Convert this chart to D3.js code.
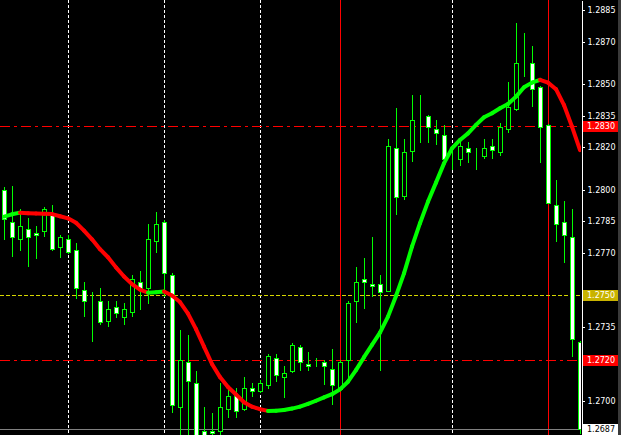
<!DOCTYPE html>
<html>
<head>
<meta charset="utf-8">
<title>Chart</title>
<style>
  body { margin: 0; background: #000; }
  svg { display: block; }
  .axis text { font-family: 'DejaVu Sans', sans-serif; font-size: 8px; fill: #fff; }
  .axis path, .axis line { stroke: #fff; shape-rendering: crispEdges; }
  .lbl { font-family: 'DejaVu Sans', sans-serif; font-size: 8px; }
</style>
</head>
<body>
<div id="chart"></div>
<script src="https://d3js.org/d3.v7.min.js"></script>
<script>
// candle data, oldest bar first
var opens = [1.27998,1.27847,1.27766,1.27814,1.27795,1.27804,1.27880,1.27728,1.27766,1.27714,
  1.27525,1.27482,1.27473,1.27378,1.27445,1.27397,1.27421,1.27563,1.27534,1.27757,
  1.27847,1.27596,1.26972,1.27184,1.27085,1.26858,1.26860,1.26858,1.26962,1.27028,
  1.26962,1.27061,1.27047,1.27076,1.27203,1.27113,1.27142,1.27255,1.27175,1.27175,
  1.27184,1.27151,1.27057,1.27194,1.27473,1.27577,1.27553,1.27553,1.27520,1.28197,
  1.27970,1.28183,1.28339,1.28348,1.28287,1.28258,1.28135,1.28145,1.28197,1.28168,
  1.28159,1.28206,1.28178,1.28287,1.28381,1.28608,1.28599,1.28485,1.28306,1.27927,
  1.27847,1.27776,1.27279];
var highs = [1.28012,1.28017,1.27908,1.27866,1.27828,1.27918,1.27927,1.27785,1.27785,1.27747,
  1.27563,1.27516,1.27534,1.27473,1.27473,1.27464,1.27596,1.27615,1.27837,1.27894,
  1.27856,1.27605,1.27336,1.27312,1.27142,1.26972,1.26943,1.27085,1.27057,1.27061,
  1.27113,1.27085,1.27099,1.27222,1.27222,1.27165,1.27274,1.27265,1.27232,1.27203,
  1.27194,1.27246,1.27194,1.27473,1.27634,1.27676,1.27776,1.27596,1.28239,1.28386,
  1.28239,1.28448,1.28448,1.28353,1.28329,1.28306,1.28201,1.28239,1.28225,1.28197,
  1.28239,1.28239,1.28315,1.28509,1.28788,1.28741,1.28679,1.28490,1.28310,1.28045,
  1.27946,1.27908,1.27284];
var lows = [1.27762,1.27681,1.27710,1.27634,1.27672,1.27776,1.27710,1.27676,1.27695,1.27482,
  1.27397,1.27279,1.27359,1.27350,1.27393,1.27359,1.27397,1.27430,1.27459,1.27700,
  1.27492,1.26943,1.26830,1.26825,1.26792,1.26815,1.26825,1.26834,1.26919,1.26919,
  1.26953,1.27019,1.27038,1.27057,1.27090,1.27014,1.27132,1.27142,1.27142,1.27161,
  1.27076,1.26981,1.27052,1.27099,1.27369,1.27435,1.27492,1.27142,1.27516,1.27880,
  1.27951,1.28131,1.28220,1.28220,1.28211,1.28135,1.28093,1.28112,1.28126,1.28093,
  1.28145,1.28145,1.28159,1.28268,1.28372,1.28533,1.28391,1.28126,1.27932,1.27752,
  1.27653,1.27208,1.26844];
var closes = [1.27861,1.27776,1.27828,1.27776,1.27785,1.27908,1.27719,1.27776,1.27705,1.27534,
  1.27473,1.27482,1.27374,1.27435,1.27416,1.27435,1.27577,1.27530,1.27766,1.27837,
  1.27605,1.26981,1.27194,1.27095,1.26815,1.26839,1.26849,1.26972,1.27024,1.26953,
  1.27061,1.27047,1.27085,1.27213,1.27123,1.27132,1.27265,1.27184,1.27165,1.27175,
  1.27165,1.27076,1.27184,1.27464,1.27563,1.27563,1.27544,1.27516,1.28206,1.27965,
  1.28178,1.28329,1.28339,1.28296,1.28268,1.28145,1.28135,1.28206,1.28178,1.28168,
  1.28197,1.28187,1.28296,1.28391,1.28599,1.28608,1.28476,1.28296,1.27937,1.27837,
  1.27785,1.27293,1.26866];
// smoothed average drawn over the candles
var maValues = [1.27872,1.27883,1.27891,1.27888,1.27887,1.27886,1.27884,1.27874,1.27864,1.27843,
  1.27806,1.27765,1.27718,1.27680,1.27632,1.27589,1.27553,1.27527,1.27512,1.27514,
  1.27518,1.27499,1.27468,1.27413,1.27340,1.27257,1.27175,1.27113,1.27066,1.27031,
  1.26994,1.26973,1.26961,1.26953,1.26954,1.26957,1.26964,1.26973,1.26986,1.27001,
  1.27017,1.27032,1.27055,1.27091,1.27146,1.27207,1.27265,1.27323,1.27399,1.27497,
  1.27604,1.27730,1.27841,1.27943,1.28033,1.28124,1.28195,1.28235,1.28266,1.28306,
  1.28342,1.28361,1.28385,1.28405,1.28440,1.28484,1.28506,1.28519,1.28506,1.28475,
  1.28400,1.28298,1.28187];

var priceTicks = [1.2885, 1.2870, 1.2850, 1.2835, 1.2820, 1.2800, 1.2785, 1.2770, 1.2735, 1.2700];
var levelPrices = [1.2830, 1.2750, 1.27195];
var levelLabels = ["1.2830", "1.2750", "1.2720"];
var gridBars = [8, 20, 32, 56];
var separatorBars = [42, 68];

var width = 621, height = 435;
var plotRight = 581;

var x = d3.scaleLinear().domain([0, 72]).range([4, 580]);
var y = d3.scaleLinear().domain([1.26839, 1.28897]).range([height, 0]);

var svg = d3.select('#chart').append('svg')
  .attr('width', width)
  .attr('height', height)
  .style('background', '#000');

svg.append('clipPath').attr('id', 'plot')
  .append('rect').attr('x', 0).attr('y', 0).attr('width', plotRight).attr('height', height);

var plot = svg.append('g').attr('clip-path', 'url(#plot)');

// period grid (white dots) and separators (red)
plot.selectAll('.grid').data(gridBars).enter().append('line')
  .attr('x1', d => Math.round(x(d)) + 0.5).attr('x2', d => Math.round(x(d)) + 0.5)
  .attr('y1', 0).attr('y2', height)
  .attr('stroke', '#fff').attr('stroke-dasharray', '3,2');

plot.selectAll('.sep').data(separatorBars).enter().append('line')
  .attr('x1', d => Math.round(x(d)) + 0.5).attr('x2', d => Math.round(x(d)) + 0.5)
  .attr('y1', 0).attr('y2', height)
  .attr('stroke', '#ff0000');

// horizontal levels
var levelColors = ['#ff0000', '#d6d600', '#ff0000'];
var levelDash = ['10,4,3,4', '4,2', '10,4,3,4'];
plot.selectAll('.lvl').data(levelPrices).enter().append('line')
  .attr('x1', 0).attr('x2', plotRight)
  .attr('y1', d => Math.round(y(d)) + 0.5).attr('y2', d => Math.round(y(d)) + 0.5)
  .attr('stroke', (d, i) => levelColors[i])
  .attr('stroke-dasharray', (d, i) => levelDash[i])
  .attr('shape-rendering', 'crispEdges');

// bid line
var last = closes[closes.length - 1];
plot.append('line')
  .attr('x1', 0).attr('x2', plotRight)
  .attr('y1', Math.round(y(last)) + 0.5).attr('y2', Math.round(y(last)) + 0.5)
  .attr('stroke', '#808080');

// candles
var bars = d3.range(opens.length);
var candle = plot.selectAll('.candle').data(bars).enter().append('g')
  .attr('shape-rendering', 'crispEdges');

candle.append('line')
  .attr('x1', i => Math.round(x(i)) + 0.5).attr('x2', i => Math.round(x(i)) + 0.5)
  .attr('y1', i => y(highs[i])).attr('y2', i => y(lows[i]))
  .attr('stroke', '#00ff00');

candle.append('rect')
  .attr('x', i => Math.round(x(i)) - 1.5)
  .attr('width', 4)
  .attr('y', i => Math.round(y(Math.max(opens[i], closes[i]))) + 0.5)
  .attr('height', i => Math.max(0, Math.round(y(Math.min(opens[i], closes[i]))) - Math.round(y(Math.max(opens[i], closes[i])))))
  .attr('fill', i => closes[i] < opens[i] ? '#fff' : '#000')
  .attr('stroke', '#00ff00');

// smoothed line, green while rising, red while falling
var segs = d3.range(maValues.length - 1);
plot.selectAll('.ma').data(segs).enter().append('line')
  .attr('x1', i => x(i)).attr('y1', i => y(maValues[i]))
  .attr('x2', i => x(i + 1)).attr('y2', i => y(maValues[i + 1]))
  .attr('stroke', i => maValues[i + 1] >= maValues[i] ? '#00ff00' : '#ff0000')
  .attr('stroke-width', 4)
  .attr('stroke-linecap', 'round');

// price scale
var axis = d3.axisRight(y)
  .tickValues(priceTicks)
  .tickSize(3)
  .tickSizeOuter(0)
  .tickFormat(d3.format('.4f'));

svg.append('g')
  .attr('class', 'axis')
  .attr('transform', 'translate(' + (plotRight + 0.5) + ',0)')
  .call(axis);

// level boxes on the scale
var boxFill = ['#ff0000', '#c9b300', '#ff0000'];
var box = svg.selectAll('.box').data(levelPrices).enter().append('g');
box.append('rect')
  .attr('x', 583).attr('width', 35)
  .attr('y', d => Math.round(y(d)) - 5).attr('height', 11)
  .attr('fill', (d, i) => boxFill[i]);
box.append('text')
  .attr('class', 'lbl')
  .attr('x', 587).attr('y', d => y(d)).attr('dy', '0.35em')
  .attr('fill', '#fff')
  .text((d, i) => levelLabels[i]);

// current price box
svg.append('rect')
  .attr('x', 583).attr('width', 35)
  .attr('y', Math.round(y(last)) - 5).attr('height', 11)
  .attr('fill', '#fff');
svg.append('text')
  .attr('class', 'lbl')
  .attr('x', 587).attr('y', y(last)).attr('dy', '0.35em')
  .attr('fill', '#000')
  .text(d3.format('.4f')(last));

// window edge
svg.append('rect').attr('x', 618).attr('y', 0).attr('width', 3).attr('height', height).attr('fill', '#3a3a3a');
</script>
</body>
</html>
